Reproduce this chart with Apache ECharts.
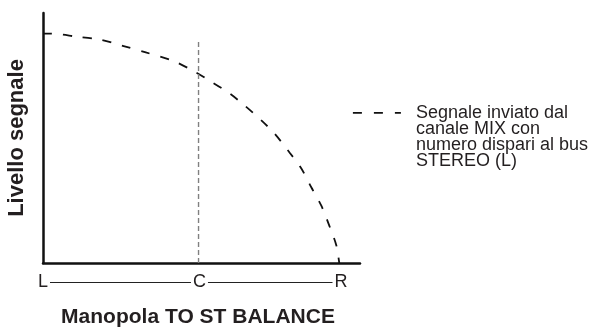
<!DOCTYPE html>
<html>
<head>
<meta charset="utf-8">
<script src="https://cdn.jsdelivr.net/npm/echarts@6/dist/echarts.min.js"></script>
<style>
  html, body { margin: 0; padding: 0; background: #fff; }
  #chart { width: 592px; height: 327px; }
</style>
</head>
<body>
<div id="chart"></div>
<script>
// Knob position: L = 0, C = centre, R = 100
var knobPositions = [0, 52.5, 100];
var knobLabels = ['L', 'C', 'R'];

// Relative signal level sent to the STEREO L bus along the knob travel
var curveX = [0, 2.4, 11.4, 19.2, 26.9, 35.0, 43.8, 50.5, 56.2, 63.0, 68.0, 73.7, 78.1, 83.2, 87.2, 90.6, 93.9, 96.6, 99.0, 100];
var curveY = [100, 100, 98.7, 97.4, 94.7, 91.7, 88.2, 83.9, 79.5, 73.9, 68.7, 62.2, 56.5, 48.2, 41.2, 32.9, 25.1, 16.4, 7.7, 0];

// Centre marker height
var centreTop = 97;

var legendLines = ['Segnale inviato dal', 'canale MIX con', 'numero dispari al bus', 'STEREO (L)'];
var seriesName = legendLines.join(' ');

var axisTitle = 'Manopola TO ST BALANCE';
var levelTitle = 'Livello segnale';

var textColor = '#231f20';
var fontFamily = '"Liberation Sans", Arial, Helvetica, sans-serif';

var curveData = curveX.map(function (x, i) { return [x, curveY[i]]; });
var centreC = knobPositions[1];

// The legend icon sits at the vertical middle of its text block; blank lines
// above the text bring the first line level with the dash icon.
var legendLineHeight = 16.2;
var blankLines = legendLines.length - 1;
var legendBlockHeight = (legendLines.length + blankLines) * legendLineHeight;
var legendIconY = 112;

var chart = echarts.init(document.getElementById('chart'), null, { renderer: 'canvas' });
chart.setOption({
  animation: false,
  textStyle: { fontFamily: fontFamily, color: textColor },
  grid: [
    { left: 43, right: 232, top: 13, bottom: 64, containLabel: false, outerBoundsMode: 'none' },
    { left: 43, right: 251, top: 13, bottom: 45, containLabel: false, outerBoundsMode: 'none' }
  ],
  legend: {
    data: [seriesName],
    selectedMode: false,
    left: 352,
    top: legendIconY - legendBlockHeight / 2,
    padding: 0,
    itemWidth: 48,
    itemHeight: 12,
    itemStyle: { color: 'transparent', opacity: 0, borderWidth: 0 },
    lineStyle: { color: '#111', width: 1.8, type: [9, 12] },
    formatter: function () {
      return new Array(blankLines + 1).join('\n') + legendLines.join('\n');
    },
    textStyle: {
      fontFamily: fontFamily,
      fontSize: 18,
      lineHeight: legendLineHeight,
      color: textColor,
      padding: [0, 0, 0, 10]
    }
  },
  xAxis: [
    {
      gridIndex: 0,
      type: 'value',
      min: 0,
      max: 107,
      axisLine: { show: true, onZero: false, lineStyle: { color: '#111', width: 2.5 } },
      axisTick: { show: false },
      axisLabel: { show: false },
      splitLine: { show: false }
    },
    {
      gridIndex: 1,
      type: 'value',
      min: 0,
      max: 100,
      axisLine: { show: true, onZero: false, lineStyle: { color: '#222', width: 1 } },
      axisTick: { show: false },
      splitLine: { show: false },
      axisLabel: {
        customValues: knobPositions,
        showMinLabel: true,
        showMaxLabel: true,
        margin: 0,
        verticalAlign: 'middle',
        backgroundColor: '#fff',
        padding: [0, 2],
        fontSize: 18,
        color: textColor,
        formatter: function (v) {
          var i = knobPositions.indexOf(v);
          return i >= 0 ? knobLabels[i] : '';
        }
      },
      name: axisTitle,
      nameLocation: 'middle',
      nameGap: 25,
      nameTextStyle: {
        fontSize: 21,
        fontWeight: 'bold',
        color: textColor,
        padding: [0, 0, 0, 12]
      }
    }
  ],
  yAxis: [
    {
      gridIndex: 0,
      type: 'value',
      min: 0,
      max: 109,
      axisLine: { show: true, lineStyle: { color: '#111', width: 2.5 } },
      axisTick: { show: false },
      axisLabel: { show: false },
      splitLine: { show: false },
      name: levelTitle,
      nameLocation: 'middle',
      nameGap: 15,
      nameRotate: 90,
      nameTextStyle: { fontSize: 22, fontWeight: 'bold', color: textColor }
    },
    { gridIndex: 1, type: 'value', show: false, min: 0, max: 1 }
  ],
  series: [
    {
      name: seriesName,
      type: 'line',
      xAxisIndex: 0,
      yAxisIndex: 0,
      data: curveData,
      smooth: 0.3,
      symbol: 'none',
      itemStyle: { color: '#111' },
      lineStyle: { color: '#111', width: 1.8, type: [9, 11] }
    },
    {
      name: 'centre',
      type: 'line',
      xAxisIndex: 0,
      yAxisIndex: 0,
      data: [[centreC, 0], [centreC, centreTop]],
      symbol: 'none',
      silent: true,
      lineStyle: { color: '#808080', width: 1.4, type: [5, 3] }
    }
  ]
});
</script>
</body>
</html>
